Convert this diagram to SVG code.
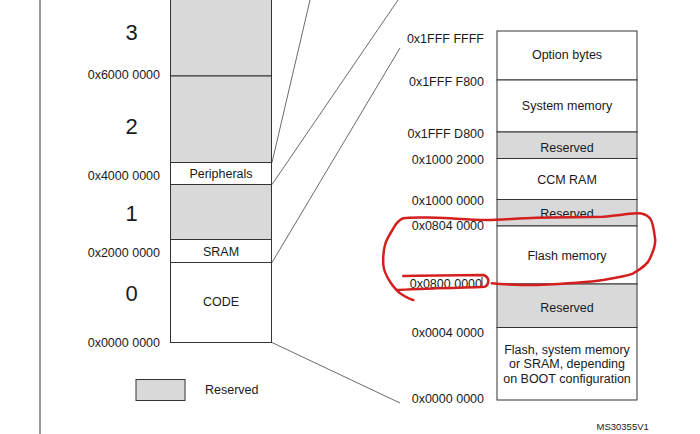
<svg xmlns="http://www.w3.org/2000/svg" width="700" height="434" viewBox="0 0 700 434">
<style>
text{font-family:"Liberation Sans",Arial,sans-serif;fill:#1a1a1a;}
.a{font-size:12.5px;text-anchor:end;}
.b{font-size:12.5px;text-anchor:middle;}
.n{font-size:22px;text-anchor:middle;}
.w{fill:#fff;stroke:#333;stroke-width:1;}
.g{fill:#d9d9d9;stroke:#333;stroke-width:1;}
.c{fill:none;stroke:#444;stroke-width:0.8;}
.r{fill:none;stroke:#d41f1f;stroke-width:2.5;stroke-linecap:round;stroke-linejoin:round;}
</style>
<rect width="700" height="434" fill="#fff"/>
<line x1="40" y1="0" x2="40" y2="434" stroke="#333" stroke-width="1"/>

<g id="left-map">
  <rect class="g" x="170.5" y="-5" width="101" height="81"/>
  <rect class="g" x="170.5" y="76" width="101" height="86.5"/>
  <rect class="w" x="170.5" y="162.5" width="101" height="22"/>
  <rect class="g" x="170.5" y="184.5" width="101" height="55"/>
  <rect class="w" x="170.5" y="239.5" width="101" height="23"/>
  <rect class="w" x="170.5" y="262.5" width="101" height="80"/>
  <text class="b" x="221" y="177.5">Peripherals</text>
  <text class="b" x="221" y="256">SRAM</text>
  <text class="b" x="221" y="306">CODE</text>
  <text class="n" x="131.5" y="40">3</text>
  <text class="n" x="131.5" y="134">2</text>
  <text class="n" x="131.5" y="221">1</text>
  <text class="n" x="131.5" y="301">0</text>
  <text class="a" x="160" y="79">0x6000 0000</text>
  <text class="a" x="160" y="179.5">0x4000 0000</text>
  <text class="a" x="160" y="256.5">0x2000 0000</text>
  <text class="a" x="160" y="346.5">0x0000 0000</text>
</g>

<g id="legend">
  <rect class="g" x="136" y="379.5" width="49" height="21" stroke="#666"/>
  <text x="205" y="393.5" font-size="12.5">Reserved</text>
</g>

<g id="connectors">
  <line class="c" x1="272" y1="162.5" x2="310" y2="0"/>
  <line class="c" x1="272" y1="184.5" x2="398" y2="0"/>
  <line class="c" x1="272" y1="262.5" x2="400" y2="48"/>
  <line class="c" x1="272" y1="342.5" x2="400" y2="403"/>
</g>

<g id="right-map">
  <rect class="w" x="497" y="31" width="140" height="49"/>
  <rect class="w" x="497" y="80" width="140" height="52"/>
  <rect class="g" x="497" y="132" width="140" height="26.5"/>
  <rect class="w" x="497" y="158.5" width="140" height="41"/>
  <rect class="g" x="497" y="199.5" width="140" height="26.5"/>
  <rect class="w" x="497" y="226" width="140" height="58"/>
  <rect class="g" x="497" y="284" width="140" height="43.5"/>
  <rect class="w" x="497" y="327.5" width="140" height="72.5"/>
  <text class="b" x="567" y="58.5">Option bytes</text>
  <text class="b" x="567" y="109.5">System memory</text>
  <text class="b" x="567" y="151.5">Reserved</text>
  <text class="b" x="567" y="183.5">CCM RAM</text>
  <text class="b" x="567" y="217.5">Reserved</text>
  <text class="b" x="567" y="259.5">Flash memory</text>
  <text class="b" x="567" y="312">Reserved</text>
  <text class="b" x="567" y="353.5">Flash, system memory</text>
  <text class="b" x="567" y="368">or SRAM, depending</text>
  <text class="b" x="567" y="382.5">on BOOT configuration</text>
  <text class="a" x="484" y="42.5">0x1FFF FFFF</text>
  <text class="a" x="484" y="85.5">0x1FFF F800</text>
  <text class="a" x="484" y="137.5">0x1FFF D800</text>
  <text class="a" x="484" y="163.5">0x1000 2000</text>
  <text class="a" x="484" y="204.5">0x1000 0000</text>
  <text class="a" x="484" y="229.5">0x0804 0000</text>
  <text class="a" x="482" y="287.5">0x0800 0000</text>
  <text class="a" x="484" y="336.5">0x0004 0000</text>
  <text class="a" x="484" y="402.5">0x0000 0000</text>
  <line x1="482" y1="277" x2="482" y2="287" stroke="#222" stroke-width="1"/>
</g>

<g id="annotation">
  <path class="r" d="M491.7,283.3 C510,285 530,285 536.7,285 C560,284 590,282 603.3,280 C618,277 628,276 633.3,273.3 C642,268 648,264 650,258.3 C654,250 656,244 655,238.3 C654,230 653,222 650,218.3 C646,214 642,213 636.7,213.3 C625,214 615,216 603.3,216.7 C580,217 555,217.5 536.7,217.7 C515,218.5 500,220 486.7,220 C470,220 450,218 436.7,217.7 C420,217.5 410,217 403.3,218.3 C398,220 396,224 393.3,228.3 C389,236 386,240 385,245 C383,252 383,258 383.3,265 C384,272 387,277 390,281.7 C393,286 396,290 400,293.3 C404,296 409,299 413.3,300"/>
  <path class="r" d="M403.3,276 C430,275.5 460,275 483.3,275 C486,276 488,277.5 488.3,280 C488.5,283 487,285.5 485,286.7 C470,287.5 450,288 436.7,288.3 C420,289 405,289.5 396.7,290"/>
</g>

<text x="596.5" y="430" font-size="9.5" fill="#222">MS30355V1</text>
</svg>
